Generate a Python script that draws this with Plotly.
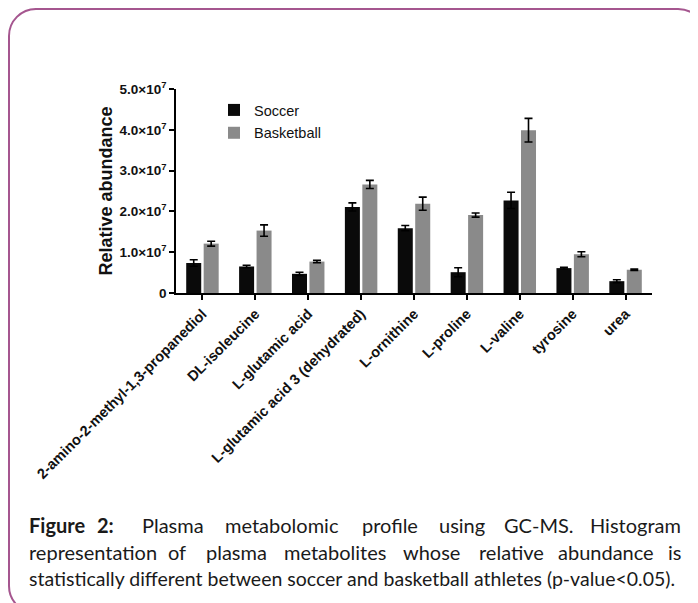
import plotly.graph_objects as go

# ---------------- data ----------------
categories = [
    "2-amino-2-methyl-1,3-propanediol",
    "DL-isoleucine",
    "L-glutamic acid",
    "L-glutamic acid 3 (dehydrated)",
    "L-ornithine",
    "L-proline",
    "L-valine",
    "tyrosine",
    "urea",
]
soccer = [0.735e7, 0.65e7, 0.47e7, 2.11e7, 1.59e7, 0.51e7, 2.27e7, 0.61e7, 0.29e7]
soccer_err = [0.08e7, 0.03e7, 0.04e7, 0.10e7, 0.065e7, 0.11e7, 0.20e7, 0.02e7, 0.035e7]
basketball = [1.21e7, 1.53e7, 0.77e7, 2.66e7, 2.19e7, 1.91e7, 3.99e7, 0.95e7, 0.57e7]
basketball_err = [0.06e7, 0.14e7, 0.03e7, 0.10e7, 0.16e7, 0.05e7, 0.29e7, 0.06e7, 0.02e7]

y_tickvals = [0, 1e7, 2e7, 3e7, 4e7, 5e7]
y_ticktext = ["0", "1.0×10<sup>7</sup>", "2.0×10<sup>7</sup>", "3.0×10<sup>7</sup>",
              "4.0×10<sup>7</sup>", "5.0×10<sup>7</sup>"]

caption_line1 = ["<b>Figure</b>", "<b>2:</b>", "Plasma", "metabolomic", "profile", "using", "GC-MS.", "Histogram"]
caption_line2 = ["representation", "of", "plasma", "metabolites", "whose", "relative", "abundance", "is"]
caption_line3 = "statistically different between soccer and basketball athletes (p-value&lt;0.05)."

# ---------------- layout geometry (window pixels) ----------------
OFF = 8  # page body margin
FW, FH = 698 - OFF, 603 - OFF
ML, MR, MT, MB = 176 - OFF, 46, 89 - OFF, 310
PW, PH = FW - ML - MR, FH - MB - MT


def px(x):
    return (x - OFF - ML) / PW


def py(y):
    return (FH - MB - (y - OFF)) / PH


fig = go.Figure()
fig.add_trace(go.Bar(
    name="Soccer", x=categories, y=soccer,
    marker=dict(color="#0a0a0a", line=dict(width=0)),
    error_y=dict(type="data", array=soccer_err, color="#000000", thickness=1.6, width=4),
    legendgroup="a",
))
fig.add_trace(go.Bar(
    name="Basketball", x=categories, y=basketball,
    marker=dict(color="#8a8a8a", line=dict(width=0)),
    error_y=dict(type="data", array=basketball_err, color="#000000", thickness=1.6, width=4),
    legendgroup="b",
))

# caption word placement (justified text)
word_x = [
    [27, 105, 173, 282, 390, 462, 539, 683],
    [27, 177, 236, 335, 431, 511, 606, 683],
]
line_y = [525, 551.5, 578]
annotations = []
for words, xs, yy in zip([caption_line1, caption_line2], word_x, line_y[:2]):
    n = len(words)
    for i, (w, xx) in enumerate(zip(words, xs)):
        anchor = "left" if i == 0 else ("right" if i == n - 1 else "center")
        annotations.append(dict(
            text=w, x=px(xx), y=py(yy), xref="paper", yref="paper",
            xanchor=anchor, yanchor="middle", showarrow=False,
            font=dict(family="Lato", size=20, color="#1a1a1a"),
        ))
annotations.append(dict(
    text=caption_line3, x=px(27), y=py(line_y[2]), xref="paper", yref="paper",
    xanchor="left", yanchor="middle", showarrow=False,
    font=dict(family="Lato", size=19.5, color="#1a1a1a"),
))

# rounded border frame
bl, bt, br, bb, rr = 9, 9, 705, 613, 27
k = 0.5523 * rr


def P(x, y):
    return f"{px(x):.5f},{py(y):.5f}"


path = (
    f"M{P(bl + rr, bt)} L{P(br - rr, bt)} "
    f"C{P(br - rr + k, bt)} {P(br, bt + rr - k)} {P(br, bt + rr)} "
    f"L{P(br, bb - rr)} "
    f"C{P(br, bb - rr + k)} {P(br - rr + k, bb)} {P(br - rr, bb)} "
    f"L{P(bl + rr, bb)} "
    f"C{P(bl + rr - k, bb)} {P(bl, bb - rr + k)} {P(bl, bb - rr)} "
    f"L{P(bl, bt + rr)} "
    f"C{P(bl, bt + rr - k)} {P(bl + rr - k, bt)} {P(bl + rr, bt)} Z"
)

fig.update_layout(
    width=FW, height=FH,
    margin=dict(l=ML, r=MR, t=MT, b=MB, pad=0),
    paper_bgcolor="white", plot_bgcolor="white",
    barmode="group", bargap=0.34, bargroupgap=0.14,
    font=dict(family="Liberation Sans, Arial", color="#000000"),
    legend=dict(
        x=px(214), y=py(94), xanchor="left", yanchor="top",
        font=dict(family="Liberation Sans, Arial", size=14.5, color="#111111"),
        bgcolor="rgba(0,0,0,0)", tracegroupgap=1,
    ),
    shapes=[dict(type="path", path=path, xref="paper", yref="paper",
                 line=dict(color="#a5568f", width=2), fillcolor="rgba(0,0,0,0)", layer="above")],
    annotations=annotations,
)
fig.update_xaxes(
    range=[-0.5, 8.5], showline=True, linecolor="#000000", linewidth=1.6,
    ticks="outside", ticklen=5, tickwidth=1.5, tickcolor="#000000",
    tickangle=-45, showgrid=False, zeroline=False,
    tickfont=dict(family="Liberation Sans, Arial", size=14.5, weight="bold", color="#111111"),
)
fig.update_yaxes(
    range=[0, 5e7], tickvals=y_tickvals, ticktext=y_ticktext,
    showline=True, linecolor="#000000", linewidth=1.6,
    ticks="outside", ticklen=5, tickwidth=1.5, tickcolor="#000000",
    showgrid=False, zeroline=False,
    tickfont=dict(family="Liberation Sans, Arial", size=13.5, weight="bold", color="#111111"),
    title=dict(text="Relative abundance", standoff=2,
               font=dict(family="Liberation Sans, Arial", size=18, weight="bold", color="#111111")),
)

fig.write_html("out.html")
